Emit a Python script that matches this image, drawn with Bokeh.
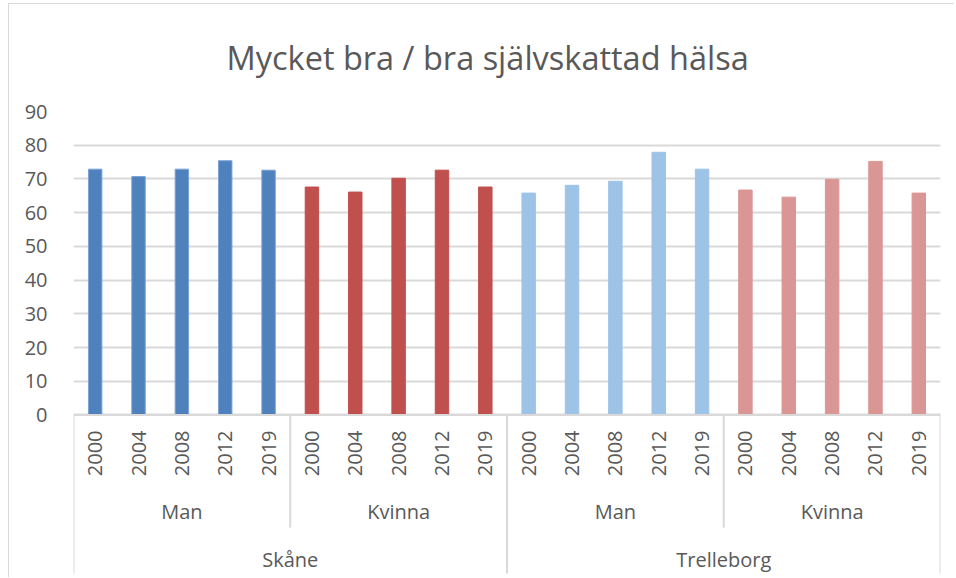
import math
from bokeh.plotting import figure
from bokeh.models import FactorRange, Range1d, FixedTicker, ColumnDataSource
from bokeh.core.properties import value
from bokeh.embed import file_html
from bokeh.resources import INLINE

title_text = "Mycket bra / bra självskattad hälsa"
regions = ["Skåne", "Trelleborg"]
genders = ["Man", "Kvinna"]
years = ["2000", "2004", "2008", "2012", "2019"]

skane_man = [72.9, 70.7, 72.9, 75.4, 72.6]
skane_kvinna = [67.6, 66.1, 70.2, 72.6, 67.6]
trelleborg_man = [65.8, 68.1, 69.3, 77.9, 72.9]
trelleborg_kvinna = [66.7, 64.6, 69.9, 75.2, 65.8]

series_colors = ["#4F81BD", "#C0504D", "#9DC3E6", "#DA9694"]
y_ticks = [0, 10, 20, 30, 40, 50, 60, 70, 80, 90]

FONT = "Open Sans"
TXT = "#595959"
GRID = "#D9D9D9"
Y_MIN = -48.5

factors = [(r, g, y) for r in regions for g in genders for y in years]
series = [skane_man, skane_kvinna, trelleborg_man, trelleborg_kvinna]
vals = [v for s in series for v in s]
cols = [series_colors[i] for i, s in enumerate(series) for _ in s]
edge = ["#7BA3D6" if c == "#4F81BD" else c for c in cols]

src = ColumnDataSource(dict(x=factors, top=vals, color=cols, edge=edge))

xr = FactorRange(*factors, factor_padding=0, subgroup_padding=0, group_padding=0, range_padding=0)
yr = Range1d(Y_MIN, 90)

p = figure(x_range=xr, y_range=yr, width=946, height=574, output_backend="svg",
           toolbar_location=None, min_border_left=64, min_border_right=15,
           min_border_top=106, min_border_bottom=0)
p.title.text = title_text
p.title.align = "left"
p.title.offset = 153
p.title.vertical_align = "top"
p.title.standoff = 60
p.title.text_font = FONT
p.title.text_font_size = "32.5px"
p.title.text_font_style = "normal"
p.title.text_color = TXT

p.outline_line_color = None
p.xaxis.visible = False
p.xgrid.visible = False
p.ygrid.ticker = FixedTicker(ticks=y_ticks)
p.ygrid.grid_line_color = GRID
p.ygrid.grid_line_width = 2
yax = p.yaxis[0]
yax.ticker = FixedTicker(ticks=y_ticks)
yax.axis_line_color = None
yax.major_tick_line_color = None
yax.minor_tick_line_color = None
yax.major_label_text_font = FONT
yax.major_label_text_font_size = "20px"
yax.major_label_text_color = TXT
yax.major_label_standoff = 20

p.vbar(x="x", top="top", width=0.31, bottom=0, fill_color="color", line_color="edge",
       line_width=1, source=src)

# category axis lines (Excel multi-level style)
first = factors[0]
last = factors[-1]
seg_x0 = [(first[0], first[1], first[2], -0.5), (regions[0], genders[1], years[0], -0.5),
          (regions[1], genders[0], years[0], -0.5), (regions[1], genders[1], years[0], -0.5),
          (last[0], last[1], last[2], 0.5)]
seg_y1 = [-47.0, -33.4, -47.0, -33.4, -47.0]
p.segment(x0=seg_x0, y0=[0] * 5, x1=seg_x0, y1=seg_y1, line_color=GRID, line_width=2)
p.segment(x0=[(first[0], first[1], first[2], -0.5)], y0=[0],
          x1=[(last[0], last[1], last[2], 0.5)], y1=[0], line_color=GRID, line_width=2)

# year labels
p.text(x=factors, y=[-4.6] * len(factors), text=[f[2] for f in factors], angle=math.pi / 2,
       text_align="right", text_baseline="middle", text_font=value(FONT),
       text_font_size="20px", text_color=TXT)
# gender labels
gx = [(r, g) for r in regions for g in genders]
p.text(x=gx, y=[-28.5] * len(gx), text=[g for _, g in gx], text_align="center",
       text_baseline="middle", text_font=value(FONT), text_font_size="20px", text_color=TXT)
# region labels
p.text(x=regions, y=[-42.8] * len(regions), text=regions, text_align="center",
       text_baseline="middle", text_font=value(FONT), text_font_size="20px", text_color=TXT)

p.styles = {"border-left": "1px solid #D9D9D9", "border-top": "1px solid #D9D9D9",
            "margin-left": "8px", "margin-top": "3px"}

open("out.html", "w").write(file_html(p, INLINE))
